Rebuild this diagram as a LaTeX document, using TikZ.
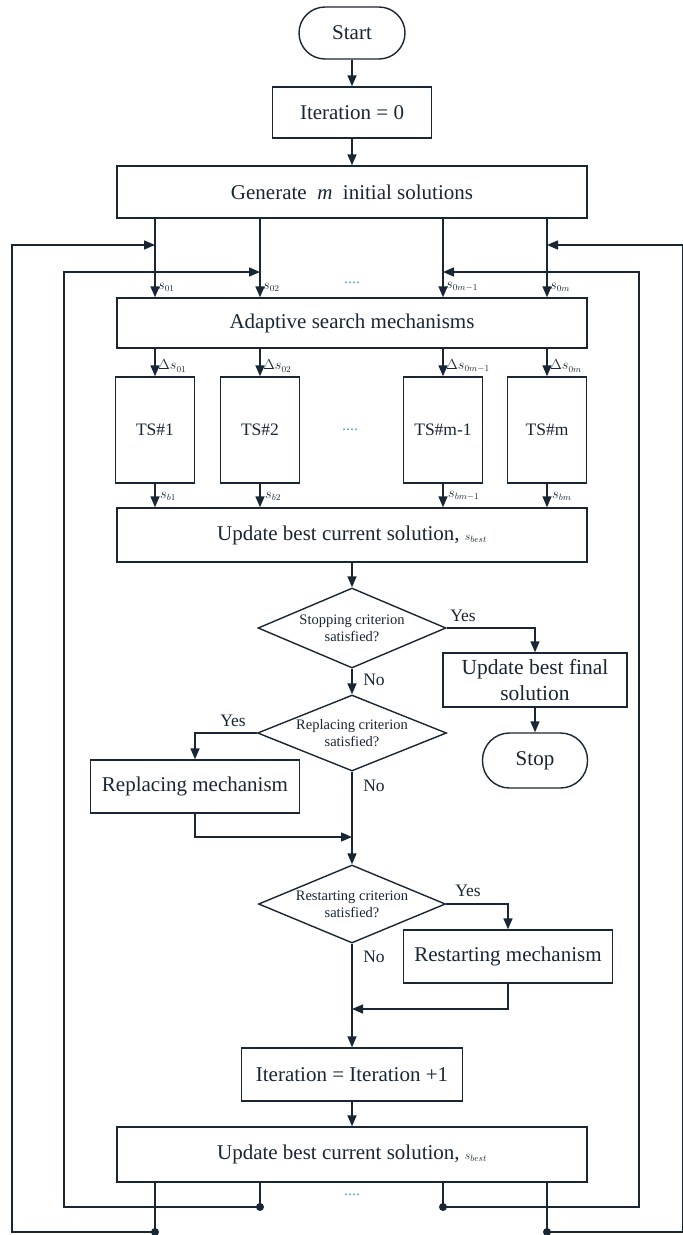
\documentclass[tikz,border=0pt]{standalone}
\usepackage{fontspec}
\setmainfont{Liberation Serif}
\usetikzlibrary{shapes.geometric,arrows.meta}
\definecolor{ink}{rgb}{0.1,0.15,0.2}
\definecolor{dotc}{rgb}{0.35,0.65,0.85}
\begin{document}
\begin{tikzpicture}[x=1pt,y=-1pt,
  every node/.style={text=ink},
  box/.style={draw=ink,line width=1.4pt,rectangle,inner sep=0pt,font=\fontsize{21}{26}\selectfont,align=center},
  term/.style={box,rounded corners=26pt},
  dec/.style={draw=ink,line width=1.4pt,diamond,aspect=2.4,inner sep=0pt,font=\fontsize{14.5}{17}\selectfont,align=center},
  tsbox/.style={box,font=\fontsize{17.5}{20}\selectfont,minimum width=79pt,minimum height=106pt},
  flow/.style={draw=ink,line width=1.4pt,-{Triangle[length=11pt,width=9pt]}},
  plain/.style={draw=ink,line width=1.4pt},
  lbl/.style={font=\fontsize{13.5}{14}\selectfont,inner sep=0pt,anchor=west},
  yn/.style={font=\fontsize{17.5}{20}\selectfont,inner sep=0pt},
  dotsn/.style={text=dotc,font=\fontsize{16}{16}\selectfont,inner sep=0pt},
  jdot/.style={circle,fill=ink,inner sep=0pt,minimum size=8pt}
]
\useasboundingbox (0,0) rectangle (683,1235);
\fill[white] (0,0) rectangle (683,1235);

% main nodes
\node[term,minimum width=106pt,minimum height=52pt] (start) at (352,33) {Start};
\node[box,minimum width=159pt,minimum height=51pt] (it0) at (352,112.5) {Iteration = 0};
\node[box,minimum width=470pt,minimum height=52pt] (gen) at (352,192) {Generate \ \textit{m} \ initial solutions};
\node[box,minimum width=470pt,minimum height=50pt] (asm) at (352,323) {Adaptive search mechanisms};

\node[tsbox] (ts1) at (155,430) {TS\#1};
\node[tsbox] (ts2) at (260,430) {TS\#2};
\node[tsbox] (ts3) at (443,430) {TS\#m-1};
\node[tsbox] (ts4) at (547,430) {TS\#m};
\node[dotsn] (tdots) at (350,430) {....};

\node[box,minimum width=470pt,minimum height=54pt] (upd) at (352,535) {Update best current solution, {\fontsize{13}{13}\selectfont$s_{best}$}};

\node[dec,minimum width=188pt,minimum height=80pt] (d1) at (352,628) {Stopping criterion\\satisfied?};
\node[box,minimum width=184pt,minimum height=54pt,font=\fontsize{21.5}{26}\selectfont] (fin) at (535,680) {Update best final\\solution};
\node[term,minimum width=105pt,minimum height=55pt,rounded corners=27pt] (stop) at (535,760.5) {Stop};

\node[dec,minimum width=189pt,minimum height=76pt] (d2) at (352,733) {Replacing criterion\\satisfied?};
\node[box,minimum width=209pt,minimum height=53pt] (rep) at (195,786.5) {Replacing mechanism};

\node[dec,minimum width=187pt,minimum height=78pt] (d3) at (352,904) {Restarting criterion\\satisfied?};
\node[box,minimum width=209pt,minimum height=53pt] (res) at (508,956.5) {Restarting mechanism};

\node[box,minimum width=221pt,minimum height=53pt] (it1) at (352,1074.5) {Iteration = Iteration +1};
\node[box,minimum width=470pt,minimum height=55pt] (upd2) at (352,1154.5) {Update best current solution, {\fontsize{13}{13}\selectfont$s_{best}$}};

% x positions of the parallel streams
\coordinate (x1) at (155,0);
\coordinate (x2) at (260,0);
\coordinate (x3) at (443,0);
\coordinate (x4) at (547,0);

% top sequence
\draw[flow] (start) -- (it0);
\draw[flow] (it0) -- (gen);
\foreach \i in {1,2,3,4}{
  \draw[flow] (gen.south -| x\i) -- (asm.north -| x\i);
  \draw[flow] (asm.south -| x\i) -- (ts\i.north);
  \draw[flow] (ts\i.south) -- (upd.north -| x\i);
}

% labels
\node[lbl] (s1) at (158,287) {$s_{01}$};
\node[lbl] (s2) at (263,287) {$s_{02}$};
\node[lbl] (s3) at (446,287) {$s_{0m-1}$};
\node[lbl] (s4) at (550,287) {$s_{0m}$};
\node[dotsn] (sdots) at (352,283) {....};
\node[lbl] (ds1) at (158,366) {$\Delta s_{01}$};
\node[lbl] (ds2) at (263,366) {$\Delta s_{02}$};
\node[lbl] (ds3) at (446,366) {$\Delta s_{0m-1}$};
\node[lbl] (ds4) at (550,366) {$\Delta s_{0m}$};
\node[lbl] (b1) at (160,496) {$s_{b1}$};
\node[lbl] (b2) at (265,496) {$s_{b2}$};
\node[lbl] (b3) at (448,496) {$s_{bm-1}$};
\node[lbl] (b4) at (552,496) {$s_{bm}$};

% decision flow
\draw[flow] (upd) -- (d1);
\coordinate (y1) at (535,628);
\draw[flow] (d1.east) -- (y1) -- (fin.north);
\draw[flow] (fin) -- (stop);
\draw[flow] (d1.south) -- (d2.north);
\coordinate (y2) at (195,733);
\draw[flow] (d2.west) -- (y2) -- (rep.north);
\coordinate (r1) at (195,837);
\coordinate (r2) at (352,837);
\draw[flow] (rep.south) -- (r1) -- (r2);
\draw[flow] (d2.south) -- (d3.north);
\coordinate (y3) at (508,904);
\draw[flow] (d3.east) -- (y3) -- (res.north);
\coordinate (q1) at (508,1009);
\coordinate (q2) at (352,1009);
\draw[flow] (res.south) -- (q1) -- (q2);
\draw[flow] (d3.south) -- (it1.north);
\draw[flow] (it1) -- (upd2);

\node[yn] (yes1) at (463,616) {Yes};
\node[yn] (no1) at (374,680) {No};
\node[yn] (yes2) at (233,721) {Yes};
\node[yn] (no2) at (374,786) {No};
\node[yn] (yes3) at (468,891) {Yes};
\node[yn] (no3) at (374,957) {No};

% feedback loops
\node[jdot] (j1) at (155,1232) {};
\node[jdot] (j2) at (260,1207) {};
\node[jdot] (j3) at (443,1207) {};
\node[jdot] (j4) at (547,1232) {};
\node[dotsn] (bdots) at (352,1195) {....};
\coordinate (oLb) at (12,1232);
\coordinate (oLt) at (12,245);
\coordinate (oRb) at (683,1232);
\coordinate (oRt) at (683,245);
\coordinate (iLb) at (64,1207);
\coordinate (iLt) at (64,272);
\coordinate (iRb) at (639,1207);
\coordinate (iRt) at (639,272);
\draw[plain] (upd2.south -| x1) -- (j1.center);
\draw[plain] (upd2.south -| x2) -- (j2.center);
\draw[plain] (upd2.south -| x3) -- (j3.center);
\draw[plain] (upd2.south -| x4) -- (j4.center);
\draw[flow] (j1.center) -- (oLb) -- (oLt) -- (oLt -| x1);
\draw[flow] (j4.center) -- (oRb) -- (oRt) -- (oRt -| x4);
\draw[flow] (j2.center) -- (iLb) -- (iLt) -- (iLt -| x2);
\draw[flow] (j3.center) -- (iRb) -- (iRt) -- (iRt -| x3);
\end{tikzpicture}
\end{document}
